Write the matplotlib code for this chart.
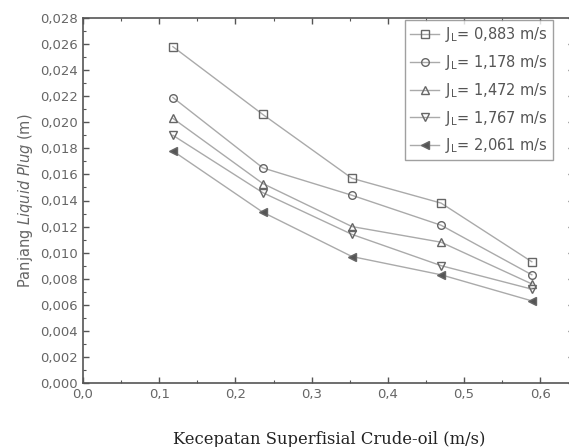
import matplotlib
matplotlib.use("Agg")
import matplotlib.pyplot as plt
from matplotlib.ticker import MultipleLocator, FuncFormatter

x_vals = [0.118, 0.236, 0.353, 0.470, 0.589]
jl_labels = ["0,883", "1,178", "1,472", "1,767", "2,061"]
s_0883 = [0.0258, 0.0206, 0.0157, 0.0138, 0.0093]
s_1178 = [0.0219, 0.0165, 0.0144, 0.0121, 0.0083]
s_1472 = [0.0203, 0.0153, 0.0120, 0.0108, 0.0076]
s_1767 = [0.0190, 0.0146, 0.0114, 0.0090, 0.0072]
s_2061 = [0.0178, 0.0131, 0.0097, 0.0083, 0.0063]
series = [s_0883, s_1178, s_1472, s_1767, s_2061]
markers = ["s", "o", "^", "v", "<"]
fills = ["none", "none", "none", "none", "#555555"]

fig = plt.figure(figsize=(5.69, 4.47), dpi=100)
xmax = 0.645
ax = fig.add_axes([83/569, 64/447, (xmax*762)/569, 365/447])

tick_col = "#555555"
for ys, m, fc, lab in zip(series, markers, fills, jl_labels):
    ax.plot(x_vals, ys, color="#aaaaaa", lw=1.0, marker=m, markersize=5.5,
            markerfacecolor=fc, markeredgecolor="#666666", markeredgewidth=1.0,
            label=r"J$_\mathregular{L}$= " + lab + " m/s")

ax.set_xlim(0, xmax)
ax.set_ylim(0, 0.028)
ax.xaxis.set_major_locator(MultipleLocator(0.1))
ax.xaxis.set_minor_locator(MultipleLocator(0.05))
ax.yaxis.set_major_locator(MultipleLocator(0.002))
ax.yaxis.set_minor_locator(MultipleLocator(0.001))
ax.xaxis.set_major_formatter(FuncFormatter(lambda v, p: f"{v:.1f}".replace(".", ",")))
ax.yaxis.set_major_formatter(FuncFormatter(lambda v, p: f"{v:.3f}".replace(".", ",")))
ax.tick_params(which="both", direction="in", top=True, right=True, colors=tick_col)
ax.tick_params(which="major", length=4, width=1, labelsize=9.5, labelcolor="#666666")
ax.tick_params(which="minor", length=2.5, width=0.8)
for s in ax.spines.values():
    s.set_color("#555555")
    s.set_linewidth(1.2)

ax.set_ylabel("Panjang $\\it{Liquid\\ Plug}$ (m)", fontsize=10.5, color="#666666", labelpad=4)
ax.set_xlabel("Kecepatan Superfisial Crude-oil (m/s)", fontsize=11.8, family="DejaVu Serif",
              color="#222222", labelpad=22)

leg = ax.legend(loc="upper left", bbox_to_anchor=((403-83)/(xmax*762), 1.0), fontsize=10.5,
                frameon=True, fancybox=False, edgecolor="#888888", labelcolor="#555555",
                handlelength=2.0, handletextpad=0.4, borderpad=0.35, labelspacing=0.6,
                borderaxespad=0.15)
leg.get_frame().set_linewidth(1.0)

fig.savefig("out.png", dpi=100)
